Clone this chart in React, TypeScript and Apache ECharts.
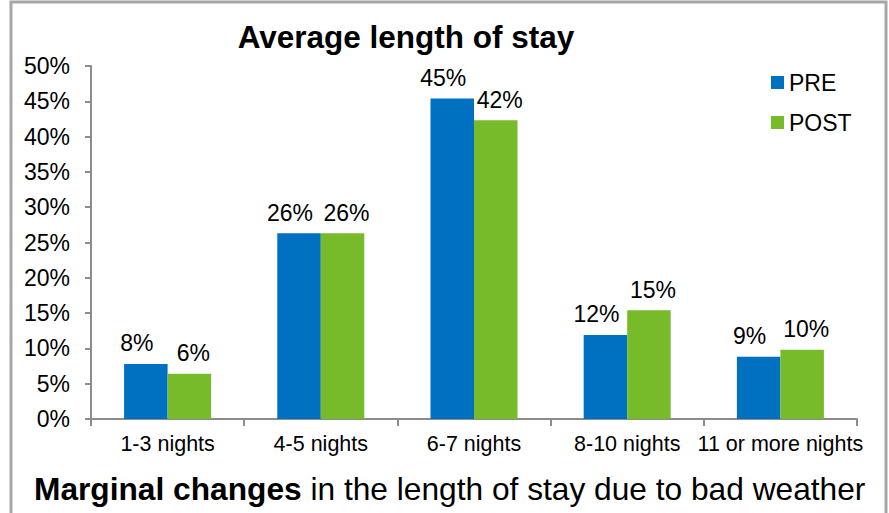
import React, { useEffect, useRef } from "react";
import * as echarts from "echarts";

const categories = ["1-3 nights", "4-5 nights", "6-7 nights", "8-10 nights", "11 or more nights"];
const preValues = [7.8, 26.3, 45.4, 11.9, 8.8];
const postValues = [6.4, 26.3, 42.3, 15.4, 9.8];
const seriesNames = ["PRE", "POST"];
const titleText = "Average length of stay";
const subtitleBold = "Marginal changes";
const subtitleRest = " in the length of stay due to bad weather";

const FONT = "'Liberation Sans', Arial, sans-serif";

export default function App() {
  const ref = useRef<HTMLDivElement>(null);
  useEffect(() => {
    document.body.style.margin = "0";
    const chart = echarts.init(ref.current!, null, { renderer: "svg" });
    const makeLabel = (dx: number) => ({
      show: true,
      position: "top" as const,
      distance: 9,
      offset: [dx, 0],
      fontSize: 23,
      fontFamily: FONT,
      color: "#000",
      formatter: (p: any) => Math.round(p.value) + "%",
    });
    chart.setOption({
      animation: false,
      backgroundColor: "#fff",
      textStyle: { fontFamily: FONT },
      title: {
        text: titleText,
        left: 401,
        textAlign: "center",
        top: 16,
        textStyle: { fontSize: 31.5, fontWeight: "bold", color: "#000", fontFamily: FONT },
      },
      legend: {
        orient: "vertical",
        left: 771,
        top: 71,
        itemWidth: 13,
        itemHeight: 13,
        itemGap: 17,
        icon: "rect",
        padding: 0,
        textStyle: { fontSize: 23, color: "#000", fontFamily: FONT },
        data: seriesNames,
      },
      grid: { left: 91, right: 32, top: 66, bottom: 94, containLabel: false },
      xAxis: {
        type: "category",
        data: categories,
        axisLine: { lineStyle: { color: "#8c8c8c", width: 2 } },
        axisTick: { show: true, length: 7, lineStyle: { color: "#8c8c8c", width: 2 } },
        axisLabel: { interval: 0, fontSize: 21.5, color: "#000", fontFamily: FONT, margin: 14 },
      },
      yAxis: {
        type: "value",
        min: 0,
        max: 50,
        interval: 5,
        splitLine: { show: false },
        axisLine: { show: true, lineStyle: { color: "#8c8c8c", width: 2 } },
        axisTick: { show: true, length: 6, lineStyle: { color: "#8c8c8c", width: 2 } },
        axisLabel: { fontSize: 23, color: "#000", fontFamily: FONT, margin: 21, formatter: "{value}%" },
      },
      series: [
        {
          name: seriesNames[0],
          type: "bar",
          data: preValues,
          barWidth: "28.4%",
          barGap: "0%",
          itemStyle: { color: "#0070c0" },
          label: makeLabel(-9),
        },
        {
          name: seriesNames[1],
          type: "bar",
          data: postValues,
          barWidth: "28.4%",
          itemStyle: { color: "#77bb2b" },
          label: makeLabel(4),
        },
      ],
      graphic: [
        {
          type: "rect",
          shape: { x: 11, y: 2, width: 875, height: 530 },
          style: { fill: "none", stroke: "#a6a6a6", lineWidth: 3 },
          silent: true,
        },
        {
          type: "text",
          left: 34,
          top: 473,
          style: {
            text: "{b|" + subtitleBold + "}{r|" + subtitleRest + "}",
            rich: {
              b: { fontSize: 31.7, fontWeight: "bold", fill: "#000", fontFamily: FONT },
              r: { fontSize: 31.7, fontWeight: "normal", fill: "#000", fontFamily: FONT },
            },
          },
        },
      ],
    });
    return () => chart.dispose();
  }, []);
  return <div ref={ref} style={{ width: 889, height: 513 }} />;
}
